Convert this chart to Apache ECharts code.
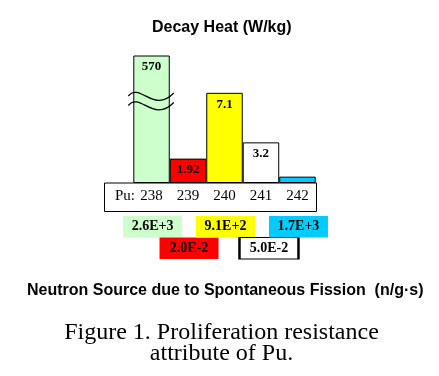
<!DOCTYPE html>
<html>
<head>
<meta charset="utf-8">
<script src="https://cdn.jsdelivr.net/npm/echarts@6/dist/echarts.min.js"></script>
<style>
  html, body { margin: 0; padding: 0; background: #fff; }
  #chart { width: 439px; height: 376px; }
</style>
</head>
<body>
<div id="chart"></div>
<script>
// Pu isotopes
var categories = ['238', '239', '240', '241', '242'];
// decay heat (W/kg), 238 is cut by the break
var decayHeat = [570, 1.92, 7.1, 3.2, 0.5];
// neutron source, spontaneous fission (n/g·s)
var neutronSource = [2.6e3, 2.0e-2, 9.1e2, 5.0e-2, 1.7e3];
// which row of boxes each value sits in
var neutronRow = [0, 1, 0, 1, 0];
var isoColors = ['#ccffcc', '#ff0000', '#ffff00', '#ffffff', '#00ccff'];
// where the axis break is drawn on the 238 bar
var breakAt = 6.85;

var serif = '"Liberation Serif", "Times New Roman", serif';
var sans = '"Liberation Sans", Arial, sans-serif';

var myChart = echarts.init(document.getElementById('chart'));

var option = {
    animation: false,
    backgroundColor: '#fff',
    title: [{
        text: 'Decay Heat (W/kg)',
        left: 152, top: 20, padding: 0,
        textStyle: { fontFamily: sans, fontSize: 16, fontWeight: 'bold', color: '#000' }
    }, {
        text: 'Neutron Source due to Spontaneous Fission  (n/g·s)',
        left: 27, top: 283, padding: 0,
        textStyle: { fontFamily: sans, fontSize: 16, fontWeight: 'bold', color: '#000' }
    }],
    grid: [
        { left: 133.3, top: 56, width: 182.4, height: 127 },
        // the "Pu:" box
        { left: 104.5, top: 183, width: 212, height: 28.5, show: true, borderColor: '#000', borderWidth: 1, backgroundColor: '#fff' },
        // neutron source boxes
        { left: 134.3, top: 216, width: 182.4, height: 43 }
    ],
    xAxis: [{
        type: 'category', gridIndex: 0, data: categories,
        axisLine: { show: false }, axisTick: { show: false },
        axisLabel: { margin: 6, fontFamily: serif, fontSize: 15, color: '#000' },
        z: 5
    }, {
        type: 'value', gridIndex: 1, show: false
    }, {
        type: 'category', gridIndex: 2, data: categories, show: false
    }],
    yAxis: [{
        type: 'value', gridIndex: 0, min: 0, max: 10, show: false
    }, {
        type: 'value', gridIndex: 1, show: false
    }, {
        type: 'value', gridIndex: 2, min: 0, max: 2, inverse: true, show: false
    }],
    graphic: [{
        type: 'text', x: 115, y: 196.5, z: 10,
        style: { text: 'Pu:', font: '15px ' + serif, fill: '#000', verticalAlign: 'middle' }
    }, {
        type: 'text', x: 221.5, y: 333,
        style: { text: 'Figure 1. Proliferation resistance', font: '24px ' + serif, fill: '#000', align: 'center', verticalAlign: 'middle' }
    }, {
        type: 'text', x: 221.5, y: 354,
        style: { text: 'attribute of Pu.', font: '24px ' + serif, fill: '#000', align: 'center', verticalAlign: 'middle' }
    }],
    series: [{
        type: 'bar',
        xAxisIndex: 0, yAxisIndex: 0,
        barWidth: '100%',
        data: decayHeat.map(function (v, i) {
            return {
                value: v,
                itemStyle: { color: isoColors[i], borderColor: '#000', borderWidth: 1 },
                label: { show: i < 4 }
            };
        }),
        label: {
            position: 'insideTop', distance: 5,
            fontFamily: serif, fontSize: 13, fontWeight: 'bold', color: '#000'
        }
    }, {
        // break marks on the 238 bar
        type: 'custom',
        xAxisIndex: 0, yAxisIndex: 0,
        z: 6,
        data: [[categories[0], breakAt]],
        renderItem: function (params, api) {
            var p = api.coord([api.value(0), api.value(1)]);
            var w = api.size([1, 0])[0];
            var half = w / 2 + 5;
            function wave(dy) {
                return {
                    type: 'bezierCurve',
                    shape: {
                        x1: p[0] - half, y1: p[1] + dy,
                        cpx1: p[0] - half * 0.5, cpy1: p[1] + dy - 14,
                        cpx2: p[0] + 2, cpy2: p[1] + dy + 18,
                        x2: p[0] + half - 1, y2: p[1] + dy - 3
                    },
                    style: { stroke: '#000', lineWidth: 1.2, fill: null }
                };
            }
            return { type: 'group', children: [wave(0), wave(9.5)] };
        }
    }, {
        type: 'scatter',
        xAxisIndex: 2, yAxisIndex: 2,
        symbol: 'rect',
        symbolSize: [59, 21.5],
        data: neutronSource.map(function (v, i) {
            return {
                value: [categories[i], neutronRow[i] + 0.5],
                symbolOffset: i === 3 ? [7, 0] : [0, 0],
                itemStyle: {
                    color: isoColors[i],
                    borderColor: i === 3 ? '#000' : isoColors[i],
                    borderWidth: i === 3 ? 1.5 : 0,
                    opacity: 1
                }
            };
        }),
        label: {
            show: true, position: 'inside',
            formatter: function (p) {
                return neutronSource[p.dataIndex].toExponential(1).toUpperCase();
            },
            fontFamily: serif, fontSize: 14, fontWeight: 'bold', color: '#000'
        }
    }]
};
myChart.setOption(option);
</script>
</body>
</html>
